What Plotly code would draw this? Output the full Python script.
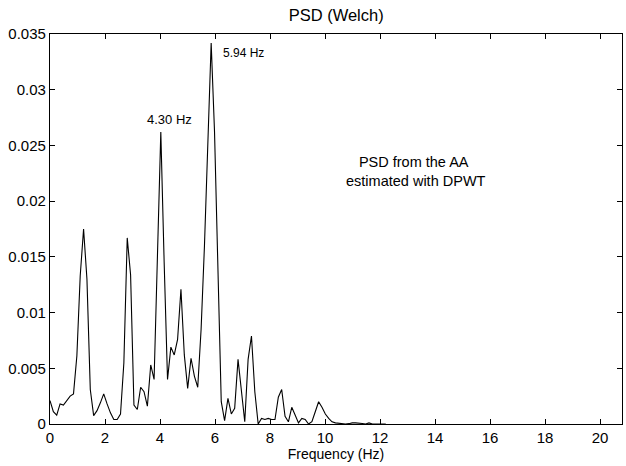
import plotly.graph_objects as go

# Frequency bin spacing (Hz) of the Welch estimate and PSD values per bin
freq_step = 0.1221
psd = [
    0.0021, 0.0011, 0.0008, 0.0018, 0.0017, 0.0021, 0.0025, 0.0027, 0.0061, 0.0133,
    0.0175, 0.0130, 0.0031, 0.00075, 0.0012, 0.0019, 0.0027, 0.0018, 0.0010, 0.0004,
    0.0004, 0.0009, 0.0055, 0.0167, 0.0134, 0.0017, 0.0013, 0.0033, 0.0029, 0.0016,
    0.0053, 0.0040, 0.0140, 0.0262, 0.0145, 0.0040, 0.0069, 0.0062, 0.0076, 0.0121,
    0.0062, 0.0032, 0.0059, 0.0043, 0.0033, 0.0085, 0.0160, 0.0250, 0.0342, 0.0262,
    0.0150, 0.0020, 0.0003, 0.0023, 0.0009, 0.0014, 0.0058, 0.0030, 0.0002, 0.0058,
    0.0079, 0.0029, 0.0000, 0.0005, 0.0004, 0.0005, 0.0004, 0.0004, 0.0024, 0.0031,
    0.0007, 0.0002, 0.0015, 0.0008, 0.0001, 0.0005, 0.0004, 0.0000, 0.0002, 0.0011,
    0.0020, 0.0015, 0.0009, 0.0005, 0.0002, 0.0001, 0.00005, 0.0000, 0.0000, 0.00003,
    0.0001, 0.0001, 0.0001, 0.00005, 0.0000, 0.0001, 0.0000, 0.0000, 0.0000, 0.0000,
    0.0000,
]

x_ticks = [0, 2, 4, 6, 8, 10, 12, 14, 16, 18, 20]
y_ticks = [0, 0.005, 0.01, 0.015, 0.02, 0.025, 0.03, 0.035]
y_tick_labels = ["0", "0.005", "0.01", "0.015", "0.02", "0.025", "0.03", "0.035"]

title_text = "PSD (Welch)"
x_label = "Frequency (Hz)"
peak_labels = ["4.30 Hz", "5.94 Hz"]
note_text = "PSD from the AA<br> estimated with DPWT"

FONT = "Liberation Sans, Arial, Helvetica, sans-serif"

fig = go.Figure()
fig.add_trace(go.Scatter(
    x0=0, dx=freq_step, y=psd, mode="lines",
    line=dict(color="black", width=1.1),
    showlegend=False, hoverinfo="skip",
))

axis_common = dict(
    showgrid=False, zeroline=False, showline=True, linecolor="black", linewidth=1.3,
    mirror="allticks", ticks="inside", ticklen=5, tickwidth=1, tickcolor="black",
    tickfont=dict(family=FONT, size=15, color="black"), automargin=False,
)

fig.update_layout(
    width=626, height=466,
    margin=dict(l=50, r=4, t=34, b=42),
    paper_bgcolor="white", plot_bgcolor="white",
    font=dict(family=FONT, color="black"),
    title=dict(text=title_text, x=0.537, xanchor="center", y=0.968, yanchor="middle",
               font=dict(family=FONT, size=16.5, color="black")),
    xaxis=dict(range=[0, 20.8], tickvals=x_ticks, ticktext=[str(v) for v in x_ticks],
               title=dict(text=x_label, font=dict(family=FONT, size=14), standoff=2),
               **axis_common),
    yaxis=dict(range=[0, 0.035], tickvals=y_ticks, ticktext=y_tick_labels, **axis_common),
    annotations=[
        dict(x=4.36, y=0.0273, xref="x", yref="y", text=peak_labels[0], showarrow=False,
             font=dict(family=FONT, size=13, color="black")),
        dict(x=7.05, y=0.0333, xref="x", yref="y", text=peak_labels[1], showarrow=False,
             font=dict(family=FONT, size=12, color="black")),
        dict(x=0.636, y=0.647, xref="paper", yref="paper", text=note_text, showarrow=False,
             align="center", font=dict(family=FONT, size=14.5, color="black")),
    ],
)

fig.write_html("out.html",
               config={"displayModeBar": False},
               post_script="document.body.style.margin='0';document.body.style.overflow='hidden';")
